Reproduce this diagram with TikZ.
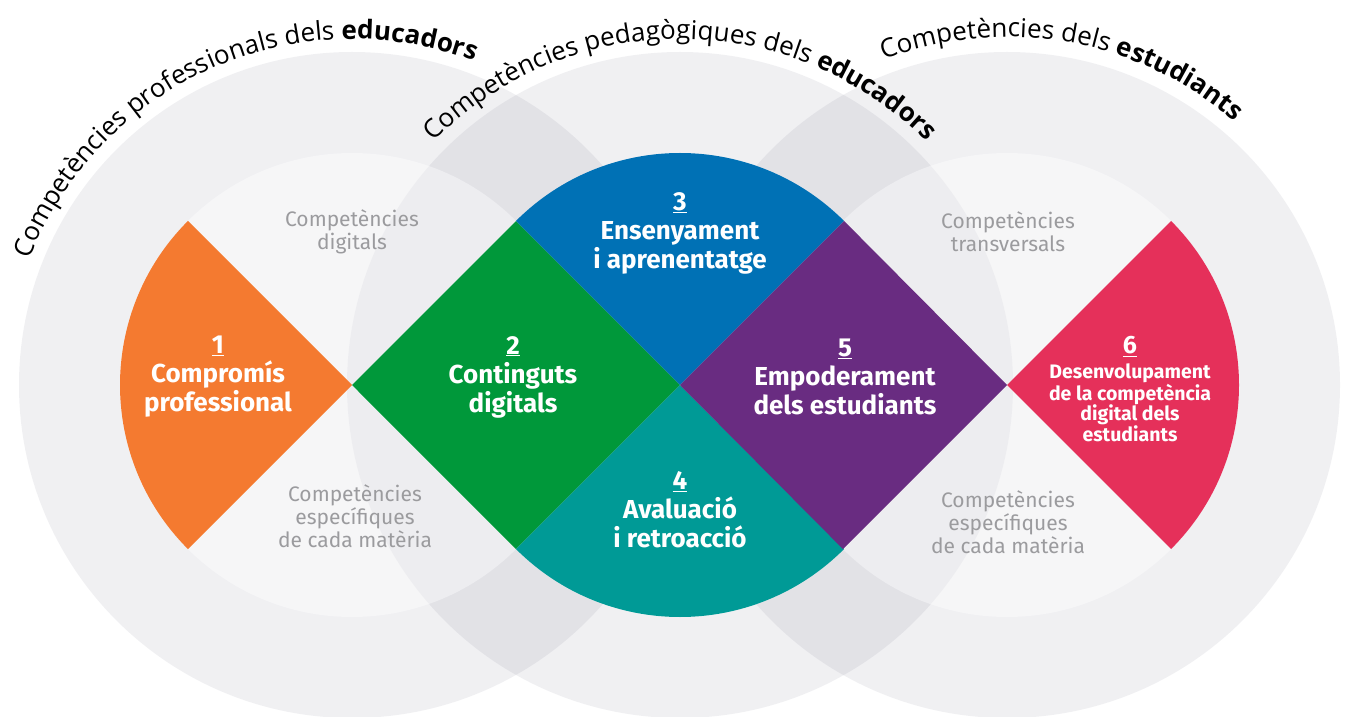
\documentclass[tikz,border=0pt]{standalone}
\usepackage{fontspec}
\setmainfont{Fira Sans}
\newfontfamily\arcfont{Open Sans}
\usetikzlibrary{decorations.text}

\definecolor{orangeC}{RGB}{244,122,48}
\definecolor{greenC}{RGB}{0,152,58}
\definecolor{blueC}{RGB}{0,113,181}
\definecolor{tealC}{RGB}{0,154,150}
\definecolor{purpleC}{RGB}{105,44,129}
\definecolor{redC}{RGB}{229,48,90}
\definecolor{ringC}{RGB}{60,60,90}
\definecolor{softC}{RGB}{155,155,158}
\newcommand\arcsize{\fontsize{26}{30}\selectfont}

\begin{document}
\begin{tikzpicture}[x=1pt,y=1pt]
\tikzstyle{ring}=[fill=ringC, fill opacity=0.08]
\tikzstyle{core}=[fill=white, fill opacity=0.4]
\tikzstyle{lbl}=[text=white, align=center, font=\bfseries\fontsize{26}{29}\selectfont]
\tikzstyle{small}=[text=white, align=center, font=\bfseries\fontsize{19.5}{20.5}\selectfont]
\tikzstyle{soft}=[text=softC, align=center, font=\fontsize{21}{23}\selectfont]
\tikzstyle{curve}=[decorate, decoration={text along path, text align=center}]
\useasboundingbox (0,0) rectangle (1346,716);
\clip (0,0) rectangle (1346,716);
% 1. Circles
%%%%%%%%%%%
\coordinate (L) at (352,331);
\coordinate (M) at (680,331);
\coordinate (R) at (1007,331);
\foreach \c in {L,M,R} \fill[ring] (\c) circle (333pt);
\foreach \c in {L,M,R} \fill[core] (\c) circle (232pt);

% 2. Areas
%%%%%%%%%%
\fill[orangeC] (L) -- ++(135:232pt) arc (135:225:232pt) -- cycle;
\fill[greenC] (L) -- ++(45:232pt) -- (M) -- ++(225:232pt) -- cycle;
\fill[blueC] (M) -- ++(45:232pt) arc (45:135:232pt) -- cycle;
\fill[tealC] (M) -- ++(225:232pt) arc (225:315:232pt) -- cycle;
\fill[purpleC] (M) -- ++(45:232pt) -- (R) -- ++(225:232pt) -- cycle;
\fill[redC] (R) -- ++(-45:232pt) arc (-45:45:232pt) -- cycle;

% 3. Titles
%%%%%%%%%%%
\path[curve, decoration={text={|\arcfont\arcsize|Competències professionals dels |\arcfont\arcsize\bfseries|educadors}}]
  (L) ++(184:346pt) arc (184:44:346pt);
\path[curve, decoration={text={|\arcfont\arcsize|Competències pedagògiques dels |\arcfont\arcsize\bfseries|educadors}}]
  (M) ++(160:346pt) arc (160:20:346pt);
\path[curve, decoration={text={|\arcfont\arcsize|Competències dels |\arcfont\arcsize\bfseries|estudiants}}]
  (R) ++(150:348pt) arc (150:10:348pt);

% 4. Labels
%%%%%%%%%%%
\node[lbl] (compromis) at (218,339) {\underline{1}\\Compromís\\professional};
\node[lbl] (continguts) at (513,339) {\underline{2}\\Continguts\\digitals};
\node[lbl] (ensenyament) at (680,483) {\underline{3}\\Ensenyament\\i aprenentatge};
\node[lbl] (avaluacio) at (680,206) {\underline{4}\\Avaluació\\i retroacció};
\node[lbl] (empoderament) at (845,339) {\underline{5}\\Empoderament\\dels estudiants};
\node[small] (desenvolupament) at (1130,327) {{\fontsize{25}{28}\selectfont\underline{6}}\\[4pt]Desenvolupament\\de la competència\\digital dels\\estudiants};

\node[soft] (digitals) at (352,484) {Competències\\digitals};
\node[soft] (especifiquesL) at (355,200) {Competències\\específiques\\de cada matèria};
\node[soft] (transversals) at (1008,484) {Competències\\transversals};
\node[soft] (especifiquesR) at (1008,194) {Competències\\específiques\\de cada matèria};

\end{tikzpicture}
\end{document}
